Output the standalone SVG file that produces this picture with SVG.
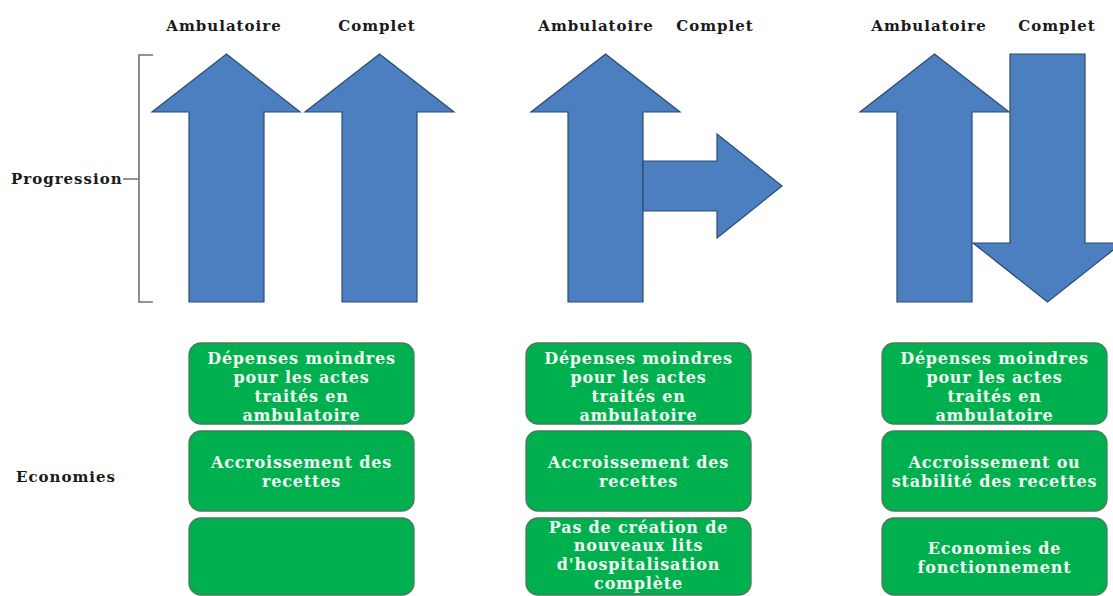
<svg xmlns="http://www.w3.org/2000/svg" width="1113" height="596" viewBox="0 0 1113 596">
<defs>
<style>
.hdr{font-family:"DejaVu Serif","Liberation Serif",serif;font-weight:bold;font-size:15px;letter-spacing:1px;fill:#1a1a1a;text-anchor:middle}
.lbl{font-family:"DejaVu Serif","Liberation Serif",serif;font-weight:bold;font-size:15px;letter-spacing:1px;fill:#1a1a1a}
.arrow{fill:#4b7fc0;stroke:#2d4b72;stroke-width:1.2;stroke-linejoin:miter}
.box{fill:#00b04f;stroke:#4a7a5a;stroke-width:1.3}
.bt{font-family:"DejaVu Serif","Liberation Serif",serif;font-weight:bold;font-size:16px;letter-spacing:0.8px;fill:#f2fbf2;text-anchor:middle}
.br{fill:none;stroke:#707070;stroke-width:1.6}
</style>
</defs>
<rect width="1113" height="596" fill="#ffffff"/>
<g id="headers">
<text class="hdr" x="224" y="31">Ambulatoire</text>
<text class="hdr" x="377" y="31">Complet</text>
<text class="hdr" x="596" y="31">Ambulatoire</text>
<text class="hdr" x="715" y="31">Complet</text>
<text class="hdr" x="929" y="31">Ambulatoire</text>
<text class="hdr" x="1057" y="31">Complet</text>
</g>
<g id="progression">
<text class="lbl" x="11" y="184">Progression</text>
<path class="br" d="M153,55 H139 V302 H153 M123,179 H139"/>
</g>
<g id="economies">
<text class="lbl" x="16" y="482">Economies</text>
</g>
<g id="arrows">
<polygon id="arrow1" class="arrow" points="226.5,54 300,112 264,112 264,302 189,302 189,112 152,112"/>
<polygon id="arrow2" class="arrow" points="379.5,54 454,112 417,112 417,302 342,302 342,112 305,112"/>
<polygon id="arrow3" class="arrow" points="605.5,54 680,112 643,112 643,302 568,302 568,112 531,112"/>
<polygon id="arrow3b" class="arrow" points="643,161 717,161 717,134 782,186 717,238 717,211 643,211"/>
<polygon id="arrow4" class="arrow" points="934.5,54 1009,112 972,112 972,302 897,302 897,112 860,112"/>
<polygon id="arrow5" class="arrow" points="1010,54 1085,54 1085,243 1122,243 1047.5,302 973,243 1010,243"/>
</g>
<g id="col1">
<g id="c1b1"><rect class="box" x="189" y="343" width="225" height="81" rx="12"/>
<text class="bt" x="301.5" y="364">Dépenses moindres</text>
<text class="bt" x="301.5" y="383">pour les actes</text>
<text class="bt" x="301.5" y="402">traités en</text>
<text class="bt" x="301.5" y="421">ambulatoire</text></g>
<g id="c1b2"><rect class="box" x="189" y="431" width="225" height="80" rx="12"/>
<text class="bt" x="301.5" y="468">Accroissement des</text>
<text class="bt" x="301.5" y="487">recettes</text></g>
<g id="c1b3"><rect class="box" x="189" y="518" width="225" height="77" rx="12"/></g>
</g>
<g id="col2">
<g id="c2b1"><rect class="box" x="526" y="343" width="225" height="81" rx="12"/>
<text class="bt" x="638.5" y="364">Dépenses moindres</text>
<text class="bt" x="638.5" y="383">pour les actes</text>
<text class="bt" x="638.5" y="402">traités en</text>
<text class="bt" x="638.5" y="421">ambulatoire</text></g>
<g id="c2b2"><rect class="box" x="526" y="431" width="225" height="80" rx="12"/>
<text class="bt" x="638.5" y="468">Accroissement des</text>
<text class="bt" x="638.5" y="487">recettes</text></g>
<g id="c2b3"><rect class="box" x="526" y="518" width="225" height="77" rx="12"/>
<text class="bt" x="638.5" y="533">Pas de création de</text>
<text class="bt" x="638.5" y="551">nouveaux lits</text>
<text class="bt" x="638.5" y="570">d'hospitalisation</text>
<text class="bt" x="638.5" y="589">complète</text></g>
</g>
<g id="col3">
<g id="c3b1"><rect class="box" x="882" y="343" width="225" height="81" rx="12"/>
<text class="bt" x="994.5" y="364">Dépenses moindres</text>
<text class="bt" x="994.5" y="383">pour les actes</text>
<text class="bt" x="994.5" y="402">traités en</text>
<text class="bt" x="994.5" y="421">ambulatoire</text></g>
<g id="c3b2"><rect class="box" x="882" y="431" width="225" height="80" rx="12"/>
<text class="bt" x="994.5" y="468">Accroissement ou</text>
<text class="bt" x="994.5" y="487">stabilité des recettes</text></g>
<g id="c3b3"><rect class="box" x="882" y="518" width="225" height="77" rx="12"/>
<text class="bt" x="994.5" y="554">Economies de</text>
<text class="bt" x="994.5" y="573">fonctionnement</text></g>
</g>
</svg>
